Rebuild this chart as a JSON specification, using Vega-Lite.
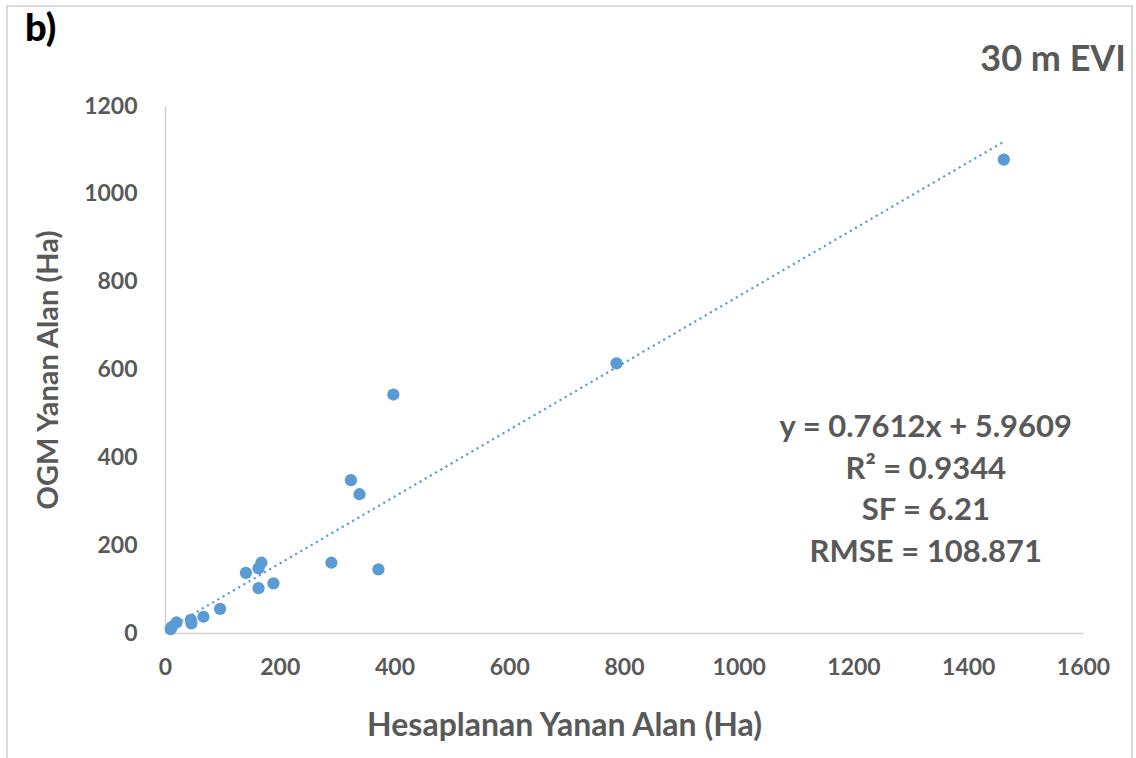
{
  "$schema": "https://vega.github.io/schema/vega-lite/v6.json",
  "width": 918,
  "height": 527,
  "autosize": {"type": "none"},
  "padding": {"left": 165, "top": 106, "right": 53, "bottom": 125},
  "background": "#ffffff",
  "data": {"values": [{}]},
  "config": {
    "view": {"stroke": null},
    "font": "Lato",
    "axis": {
      "domainColor": "#cfcfcf",
      "domainWidth": 1.5,
      "grid": false,
      "ticks": false,
      "labelFlush": false,
      "labelOverlap": false,
      "format": "d",
      "labelFont": "Lato",
      "labelFontWeight": "bold",
      "labelFontSize": 23,
      "labelColor": "#595959",
      "titleFont": "Lato",
      "titleFontWeight": "bold",
      "titleColor": "#595959"
    }
  },
  "datasets": {
    "points": [
      {"hesap": 10, "ogm": 9},
      {"hesap": 12, "ogm": 14},
      {"hesap": 20, "ogm": 24},
      {"hesap": 45, "ogm": 30},
      {"hesap": 46, "ogm": 22},
      {"hesap": 67, "ogm": 37},
      {"hesap": 96, "ogm": 55},
      {"hesap": 141, "ogm": 137},
      {"hesap": 163, "ogm": 147},
      {"hesap": 168, "ogm": 160},
      {"hesap": 163, "ogm": 102},
      {"hesap": 189, "ogm": 113},
      {"hesap": 290, "ogm": 160},
      {"hesap": 372, "ogm": 145},
      {"hesap": 324, "ogm": 348},
      {"hesap": 339, "ogm": 316},
      {"hesap": 398, "ogm": 543},
      {"hesap": 787, "ogm": 614},
      {"hesap": 1462, "ogm": 1078}
    ],
    "trend": [
      {"hesap": 10, "ogm": 13.573},
      {"hesap": 1462, "ogm": 1118.835}
    ]
  },
  "layer": [
    {
      "mark": {"type": "rect", "fill": null, "stroke": "#d9d9d9", "strokeWidth": 2},
      "encoding": {
        "x": {"datum": -275.4, "type": "quantitative", "scale": {"domain": [0, 1600], "nice": false}},
        "x2": {"datum": 1685.4},
        "y": {"datum": -300, "type": "quantitative", "scale": {"domain": [0, 1200], "nice": false}},
        "y2": {"datum": 1427.6}
      }
    },
    {
      "data": {"name": "trend"},
      "mark": {"type": "line", "color": "#5b9bd5", "strokeWidth": 2.2, "strokeDash": [2.2, 3.8]},
      "encoding": {
        "x": {"field": "hesap", "type": "quantitative"},
        "y": {"field": "ogm", "type": "quantitative"}
      }
    },
    {
      "data": {"name": "points"},
      "mark": {"type": "point", "filled": true, "shape": "circle", "size": 150, "color": "#5b9bd5", "opacity": 1},
      "encoding": {
        "x": {
          "field": "hesap",
          "type": "quantitative",
          "title": "Hesaplanan Yanan Alan (Ha)",
          "axis": {
            "values": [0, 200, 400, 600, 800, 1000, 1200, 1400, 1600],
            "labelPadding": 23,
            "titleFontSize": 32,
            "titleX": 399,
            "titleAlign": "center",
            "titlePadding": 31
          }
        },
        "y": {
          "field": "ogm",
          "type": "quantitative",
          "title": "OGM Yanan Alan (Ha)",
          "axis": {
            "values": [0, 200, 400, 600, 800, 1000, 1200],
            "labelPadding": 28,
            "titleFontSize": 29,
            "titlePadding": 20
          }
        }
      }
    },
    {
      "mark": {
        "type": "text",
        "text": ["y = 0.7612x + 5.9609", "R² = 0.9344", "SF = 6.21", "RMSE = 108.871"],
        "font": "Lato",
        "fontWeight": "bold",
        "fontSize": 31,
        "lineHeight": 41.7,
        "align": "center",
        "baseline": "middle",
        "color": "#595959"
      },
      "encoding": {
        "x": {"datum": 1326, "type": "quantitative"},
        "y": {"datum": 467, "type": "quantitative"}
      }
    },
    {
      "mark": {
        "type": "text",
        "text": "30 m EVI",
        "font": "Lato",
        "fontWeight": "bold",
        "fontSize": 36,
        "align": "right",
        "baseline": "middle",
        "color": "#595959"
      },
      "encoding": {
        "x": {"datum": 1675, "type": "quantitative"},
        "y": {"datum": 1305, "type": "quantitative"}
      }
    },
    {
      "mark": {
        "type": "text",
        "text": "b)",
        "font": "Lato",
        "fontWeight": "900",
        "fontSize": 38,
        "align": "left",
        "baseline": "middle",
        "color": "#000000"
      },
      "encoding": {
        "x": {"datum": -244, "type": "quantitative"},
        "y": {"datum": 1373, "type": "quantitative"}
      }
    }
  ]
}
